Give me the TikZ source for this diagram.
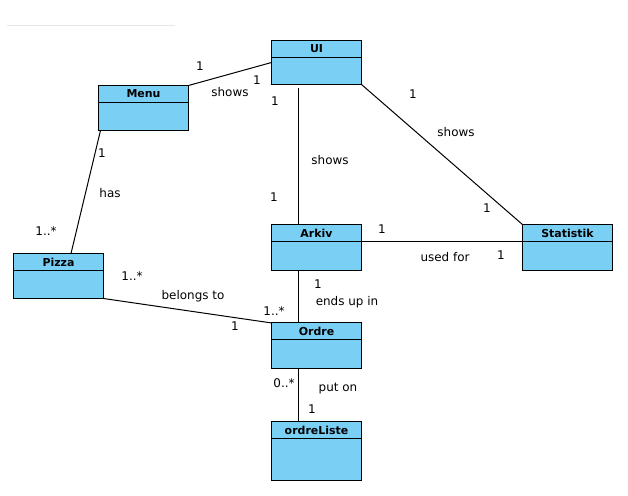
\documentclass[tikz,border=0pt]{standalone}
\usepackage{fontspec}
\setmainfont{DejaVu Sans}
\usetikzlibrary{calc}
\definecolor{clsfill}{RGB}{122,207,245}
\definecolor{rulegray}{RGB}{232,232,232}
\begin{document}
\begin{tikzpicture}[x=1bp,y=-1bp,
  cls/.style={draw=black, fill=clsfill, line width=1bp, minimum width=90bp, minimum height=45bp, inner sep=0pt, outer sep=0pt},
  ttl/.style={font=\fontsize{11}{13}\selectfont\bfseries, inner sep=0pt, anchor=center},
  lbl/.style={font=\fontsize{12}{14}\selectfont, inner sep=0pt, anchor=center},
  conn/.style={draw=black, line width=1bp}]
\useasboundingbox (0,0) rectangle (628,496);
\draw[rulegray, line width=1bp] (7,26) -- (175,26);
% classes
\newcommand{\umlclass}[4]{%
  \node[cls, minimum height=#4] (#1) at (#2) {};
  \draw[line width=1bp] ($(#1.north west)+(0,17)$) -- ($(#1.north east)+(0,17)$);
  \node[ttl] at ($(#1.north)+(0,8.5)$) {#3};
}
\umlclass{ui}{316.5,62.5}{UI}{44bp}
\umlclass{menu}{143.5,108}{Menu}{45bp}
\umlclass{arkiv}{316.5,247.3}{Arkiv}{45.5bp}
\umlclass{stat}{567.5,247.3}{Statistik}{45.5bp}
\umlclass{pizza}{58.5,276}{Pizza}{45bp}
\umlclass{ordre}{316.5,345.7}{Ordre}{45.5bp}
\umlclass{liste}{316.5,450.8}{ordreListe}{58.5bp}
% connectors
\coordinate (uiA) at ($(ui.south)+(-18,4)$);
\coordinate (menuP) at ($(menu.south west)+(2,0)$);
\coordinate (pizzaM) at ($(pizza.north west)+(57.5,0)$);
\coordinate (arkS) at ($(arkiv.north east)+(0,17)$);
\coordinate (arkO) at ($(arkiv.south)+(-18,0)$);
\coordinate (ordL) at ($(ordre.south)+(-18,0)$);
\draw[conn] (menu.north east) -- (ui.west);
\draw[conn] (uiA) -- (uiA |- arkiv.north);
\draw[conn] (ui.south east) -- (stat.north west);
\draw[conn] (menuP) -- (pizzaM);
\draw[conn] (arkS) -- (arkS -| stat.west);
\draw[conn] (arkO) -- (arkO |- ordre.north);
\draw[conn] (pizza.south east) -- (ordre.north west);
\draw[conn] (ordL) -- (ordL |- liste.north);
% labels
\node[lbl] at (200,66) {1};
\node[lbl] at (257,80) {1};
\node[lbl] at (230,92) {shows};
\node[lbl] at (275,101) {1};
\node[lbl] at (413,94) {1};
\node[lbl] at (456,132) {shows};
\node[lbl] at (487,208) {1};
\node[lbl] at (330,160) {shows};
\node[lbl] at (274,197) {1};
\node[lbl] at (102,153) {1};
\node[lbl] at (110,193) {has};
\node[lbl] at (46,231) {1..*};
\node[lbl] at (382,229) {1};
\node[lbl] at (445,257) {used for};
\node[lbl] at (501,255) {1};
\node[lbl] at (318,284) {1};
\node[lbl] at (347,302) {ends up in};
\node[lbl] at (274,311) {1..*};
\node[lbl] at (132,276) {1..*};
\node[lbl] at (193,296) {belongs to};
\node[lbl] at (235,326) {1};
\node[lbl] at (284,383) {0..*};
\node[lbl] at (338,389) {put on};
\node[lbl] at (312,409) {1};
\end{tikzpicture}
\end{document}
